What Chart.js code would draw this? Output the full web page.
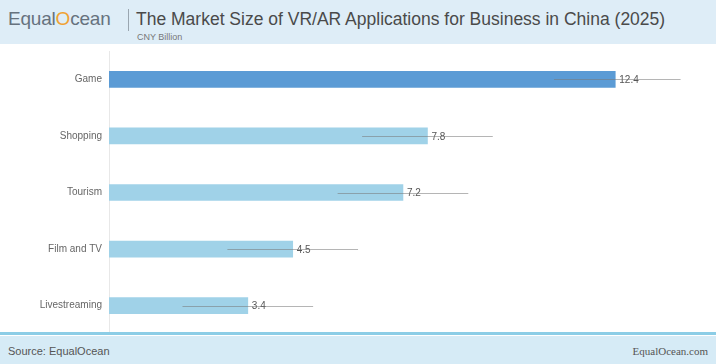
<!DOCTYPE html>
<html><head><meta charset="utf-8">
<script src="https://cdn.jsdelivr.net/npm/chart.js@4"></script>
<style>
html,body{margin:0;padding:0;width:716px;height:364px;overflow:hidden;background:#fff;font-family:"Liberation Sans",Arial,sans-serif;}
#header{position:absolute;left:0;top:0;width:716px;height:44px;background:#deedf7;}
#logo{position:absolute;left:8px;top:8px;font-size:19px;color:#66727e;letter-spacing:-0.2px;}
#logo .o{color:#f0a232;}
#sep{position:absolute;left:128px;top:9px;width:1px;height:22px;background:#9aa6b0;}
#title{position:absolute;left:136px;top:9px;font-size:17.5px;color:#4a4a4a;white-space:nowrap;}
#sub{position:absolute;left:137px;top:32px;font-size:9px;color:#777;}
#wrap{position:absolute;left:0;top:38px;width:716px;height:309px;}
#bline{position:absolute;left:0;top:332px;width:716px;height:3px;background:#8ccde6;}
#footer{position:absolute;left:0;top:336px;width:716px;height:28px;background:#d6ebf6;}
#src{position:absolute;left:8px;top:9px;font-size:11px;color:#555;}
#site{position:absolute;right:8px;top:9px;font-size:11px;color:#555;font-family:"Liberation Serif","Times New Roman",serif;}
</style></head>
<body>
<div id="header">
  <div id="logo">Equal<span class="o">O</span>cean</div>
  <div id="sep"></div>
  <div id="title">The Market Size of VR/AR Applications for Business in China (2025)</div>
  <div id="sub">CNY Billion</div>
</div>
<div id="wrap"><canvas id="c"></canvas></div>
<div id="bline"></div>
<div id="footer"><div id="src">Source: EqualOcean</div><div id="site">EqualOcean.com</div></div>
<script>
const categories = ["Game", "Shopping", "Tourism", "Film and TV", "Livestreaming"];
const values = [12.4, 7.8, 7.2, 4.5, 3.4];
const errLow = [10.9, 6.2, 5.6, 2.9, 1.8];
const errHigh = [14.0, 9.4, 8.8, 6.1, 5.0];
const barColors = ["#5b9bd5", "#a0d2e8", "#a0d2e8", "#a0d2e8", "#a0d2e8"];

const errPlugin = {
  id: 'err',
  afterDatasetsDraw(chart) {
    const ctx = chart.ctx, xs = chart.scales.x, ys = chart.scales.y;
    ctx.save();
    values.forEach((v, i) => {
      const y = ys.getPixelForValue(i);
      const xe = xs.getPixelForValue(v);
      ctx.font = '10px "Liberation Sans", Arial, sans-serif';
      ctx.fillStyle = '#555';
      ctx.textBaseline = 'middle';
      ctx.textAlign = 'left';
      ctx.fillText(v.toFixed(1), xe + 4, y + 1);
      ctx.strokeStyle = 'rgba(120,120,120,0.55)';
      ctx.lineWidth = 1;
      ctx.beginPath();
      ctx.moveTo(xs.getPixelForValue(errLow[i]), Math.round(y) + 0.5);
      ctx.lineTo(xs.getPixelForValue(errHigh[i]), Math.round(y) + 0.5);
      ctx.stroke();
    });
    ctx.restore();
  }
};

new Chart(document.getElementById('c'), {
  type: 'bar',
  data: { labels: categories, datasets: [{ data: values, backgroundColor: barColors, barThickness: 16 }] },
  options: {
    indexAxis: 'y', responsive: true, maintainAspectRatio: false, animation: false,
    layout: { padding: { left: 0, right: 15, top: 0, bottom: 0 } },
    plugins: { legend: { display: false }, tooltip: { enabled: false } },
    scales: {
      x: { display: false, min: 0, max: 14.5 },
      y: {
        grid: { display: false, drawTicks: false },
        border: { display: true, color: '#e8e8e8', width: 1 },
        ticks: { color: '#666', font: { size: 10, family: '"Liberation Sans", Arial, sans-serif' }, padding: 7 },
        afterFit(s) { s.width = 109; }
      }
    }
  },
  plugins: [errPlugin]
});
</script>
</body></html>
